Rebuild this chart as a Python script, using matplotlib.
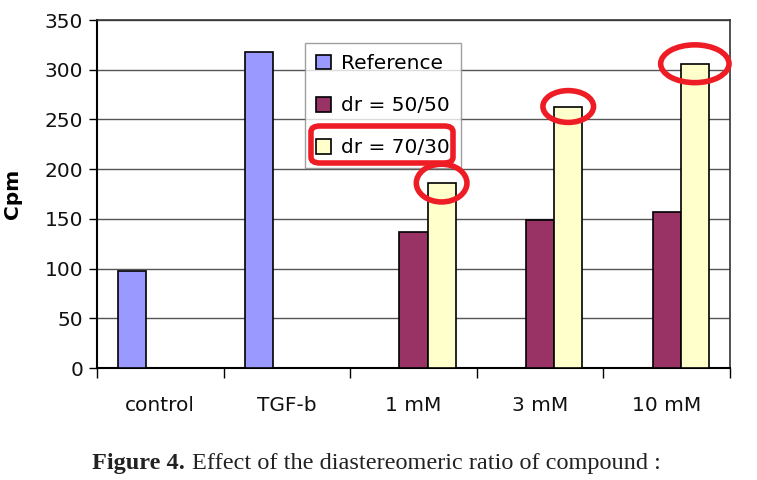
import matplotlib
matplotlib.use("Agg")
import matplotlib.pyplot as plt
import numpy as np
from matplotlib.patches import Ellipse, FancyBboxPatch

categories = ["control", "TGF-b", "1 mM", "3 mM", "10 mM"]
series_names = ["Reference", "dr = 50/50", "dr = 70/30"]
reference = [98, 318, 0, 0, 0]
dr_50_50 = [0, 0, 137, 149, 157]
dr_70_30 = [0, 0, 186, 263, 306]
yticks = [0, 50, 100, 150, 200, 250, 300, 350]
caption_bold = "Figure 4."
caption_rest = "Effect of the diastereomeric ratio of compound :"

colors = ["#9999FF", "#993366", "#FFFFCC"]
red = "#EE1C24"

plt.rcParams['font.family'] = ['DejaVu Sans']
fig = plt.figure(figsize=(7.57, 4.8), dpi=100)
ax = fig.add_axes([97/757, 1-368/480, (730-97)/757, (368-20)/480])

n = len(categories)
x = np.arange(n)
width = 1/4.5
data = [reference, dr_50_50, dr_70_30]
for i, (vals, c, name) in enumerate(zip(data, colors, series_names)):
    pos = x + (i - 1) * width
    ax.bar(pos, vals, width=width, color=c, edgecolor="black", linewidth=1.2,
           label=name, zorder=3, align="center")

ax.set_xlim(-0.5, n - 0.5)
ax.set_ylim(0, 350)
ax.set_yticks(yticks)
ax.set_yticklabels([str(t) for t in yticks], fontsize=14.5, color="#111111")
ax.yaxis.grid(True, color="#555555", linewidth=1.0, zorder=0)
ax.set_axisbelow(True)

# category boundary ticks
ax.set_xticks(np.arange(-0.5, n, 1.0))
ax.set_xticklabels([])
ax.set_xticks(x, minor=True)
ax.set_xticklabels(categories, minor=True, fontsize=14.5, color="#111111")
ax.tick_params(axis="x", which="minor", length=0, pad=20)
ax.tick_params(axis="x", which="major", length=7, width=1.0, direction="out")
ax.tick_params(axis="y", length=6, width=1.0, direction="out", pad=4)
for s in ["left", "bottom"]:
    ax.spines[s].set_linewidth(1.5)
    ax.spines[s].set_color("black")
for s in ["top", "right"]:
    ax.spines[s].set_linewidth(1.2)
    ax.spines[s].set_color("#333333")

ax.set_ylabel("Cpm", fontsize=14.5, fontweight="bold")
ax.yaxis.set_label_coords((22 - 97) / 633, 0.5)

leg = ax.legend(loc="upper left", bbox_to_anchor=((305-97)/633, (368-43)/348),
                fontsize=14.5, frameon=True, fancybox=False, edgecolor="#888888",
                borderpad=0.55, labelspacing=1.15, handlelength=0.75, handleheight=0.75,
                handletextpad=0.5, borderaxespad=0)
leg.get_frame().set_linewidth(1.0)
leg.set_zorder(5)

# red ellipses around tops of dr = 70/30 bars
ell_w = [0.40, 0.40, 0.54]
ell_h = [38, 32, 38]
k = 0
for j, v in enumerate(dr_70_30):
    if v > 0:
        e = Ellipse((x[j] + width, v), ell_w[k], ell_h[k], fill=False,
                    edgecolor=red, linewidth=4, zorder=6, clip_on=False)
        ax.add_patch(e)
        k += 1

# red rounded box around last legend entry
box = FancyBboxPatch((311/757, 1-163/480), (453-311)/757, (163-126)/480,
                     boxstyle="round,pad=0,rounding_size=0.012",
                     transform=fig.transFigure, fill=False, edgecolor=red,
                     linewidth=4, zorder=10)
fig.patches.append(box)

t1 = fig.text(92/757, 1-463/480, caption_bold, fontsize=17.5, fontweight="bold",
              family="Liberation Serif", va="center", ha="left", color="#222222")
fig.canvas.draw()
bb = t1.get_window_extent()
fig.text((bb.x1 + 7)/757, 1-463/480, caption_rest, fontsize=17.5,
         family="Liberation Serif", va="center", ha="left", color="#222222")

fig.savefig("out.png", dpi=100)
